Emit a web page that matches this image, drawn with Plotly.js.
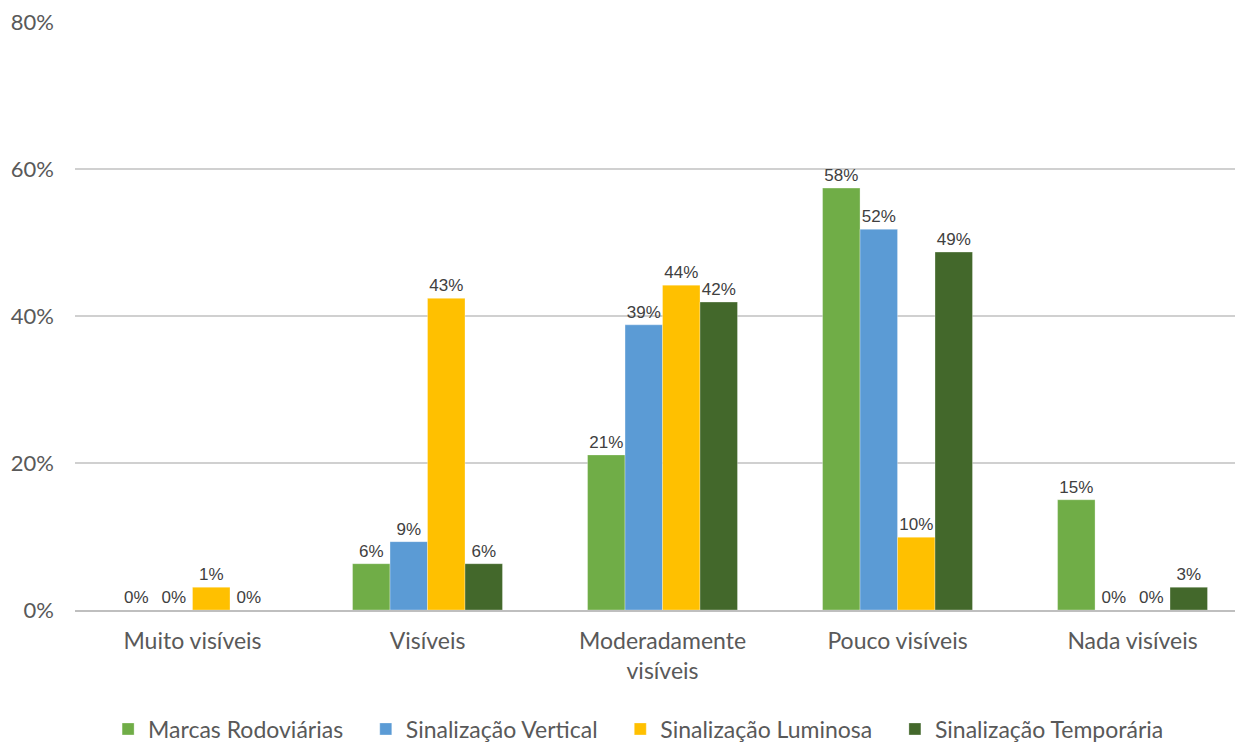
<!DOCTYPE html>
<html><head><meta charset="utf-8">
<script src="https://cdn.plot.ly/plotly-3.0.1.min.js"></script>
<style>html,body{margin:0;padding:0;background:#fff}#c{width:1240px;height:742px}</style>
</head><body><div id="c"></div>
<script>
const categories = ["Muito visíveis", "Visíveis", "Moderadamente<br>visíveis", "Pouco visíveis", "Nada visíveis"];
const seriesNames = ["Marcas Rodoviárias", "Sinalização Vertical", "Sinalização Luminosa", "Sinalização Temporária"];
const marcas = [0, 6.3, 21.1, 57.4, 15.0];
const vertical = [0, 9.3, 38.8, 51.8, 0];
const luminosa = [3.1, 42.4, 44.2, 9.9, 0];
const temporaria = [0, 6.3, 41.9, 48.7, 3.1];
const marcasLabels = ["0%", "6%", "21%", "58%", "15%"];
const verticalLabels = ["0%", "9%", "39%", "52%", "0%"];
const luminosaLabels = ["1%", "43%", "44%", "10%", "0%"];
const temporariaLabels = ["0%", "6%", "42%", "49%", "3%"];
const colors = ["#70AD47", "#5B9BD5", "#FFC000", "#43682B"];

const vals = [marcas, vertical, luminosa, temporaria];
const labs = [marcasLabels, verticalLabels, luminosaLabels, temporariaLabels];
const pad = "\u00a0".repeat(3);
const traces = vals.map((v, i) => ({
  type: "bar", x: categories, y: v,
  name: seriesNames[i] + (i < vals.length - 1 ? pad : ""),
  marker: {color: colors[i], line: {color: "rgba(255,255,255,0.6)", width: 0.5}},
  text: labs[i], textposition: "outside", cliponaxis: false,
  textfont: {family: "Liberation Sans, Arial", size: 17, color: "#404040"},
  hoverinfo: "none"
}));
const layout = {
  width: 1240, height: 742,
  margin: {l: 75, r: 5, t: 22, b: 132},
  barmode: "group", bargap: 0.362, bargroupgap: 0,
  paper_bgcolor: "#fff", plot_bgcolor: "#fff",
  font: {family: "Lato, Open Sans, sans-serif", color: "#595959"},
  xaxis: {range: [-0.5, 4.436], tickfont: {size: 23, color: "#595959"}, showline: true, linecolor: "#bfbfbf", linewidth: 1.5, ticks: "", showgrid: false, ticklabelstandoff: 10, automargin: false},
  yaxis: {range: [0, 80], tickvals: [0, 20, 40, 60, 80], ticktext: ["0%", "20%", "40%", "60%", "80%"],
    tickfont: {size: 22, color: "#595959"}, gridcolor: "#d0d0d0", gridwidth: 1.5, zeroline: false, showline: false, ticks: "", ticklen: 0, automargin: false, ticklabelstandoff: 20},
  showlegend: true,
  legend: {orientation: "h", x: 0.515, xanchor: "center", xref: "container", yref: "container", y: 0.0175, yanchor: "middle", font: {size: 23, color: "#595959"}, itemwidth: 30, traceorder: "normal"},
};
Plotly.newPlot("c", traces, layout, {displayModeBar: false, staticPlot: true});
</script>
</body></html>
